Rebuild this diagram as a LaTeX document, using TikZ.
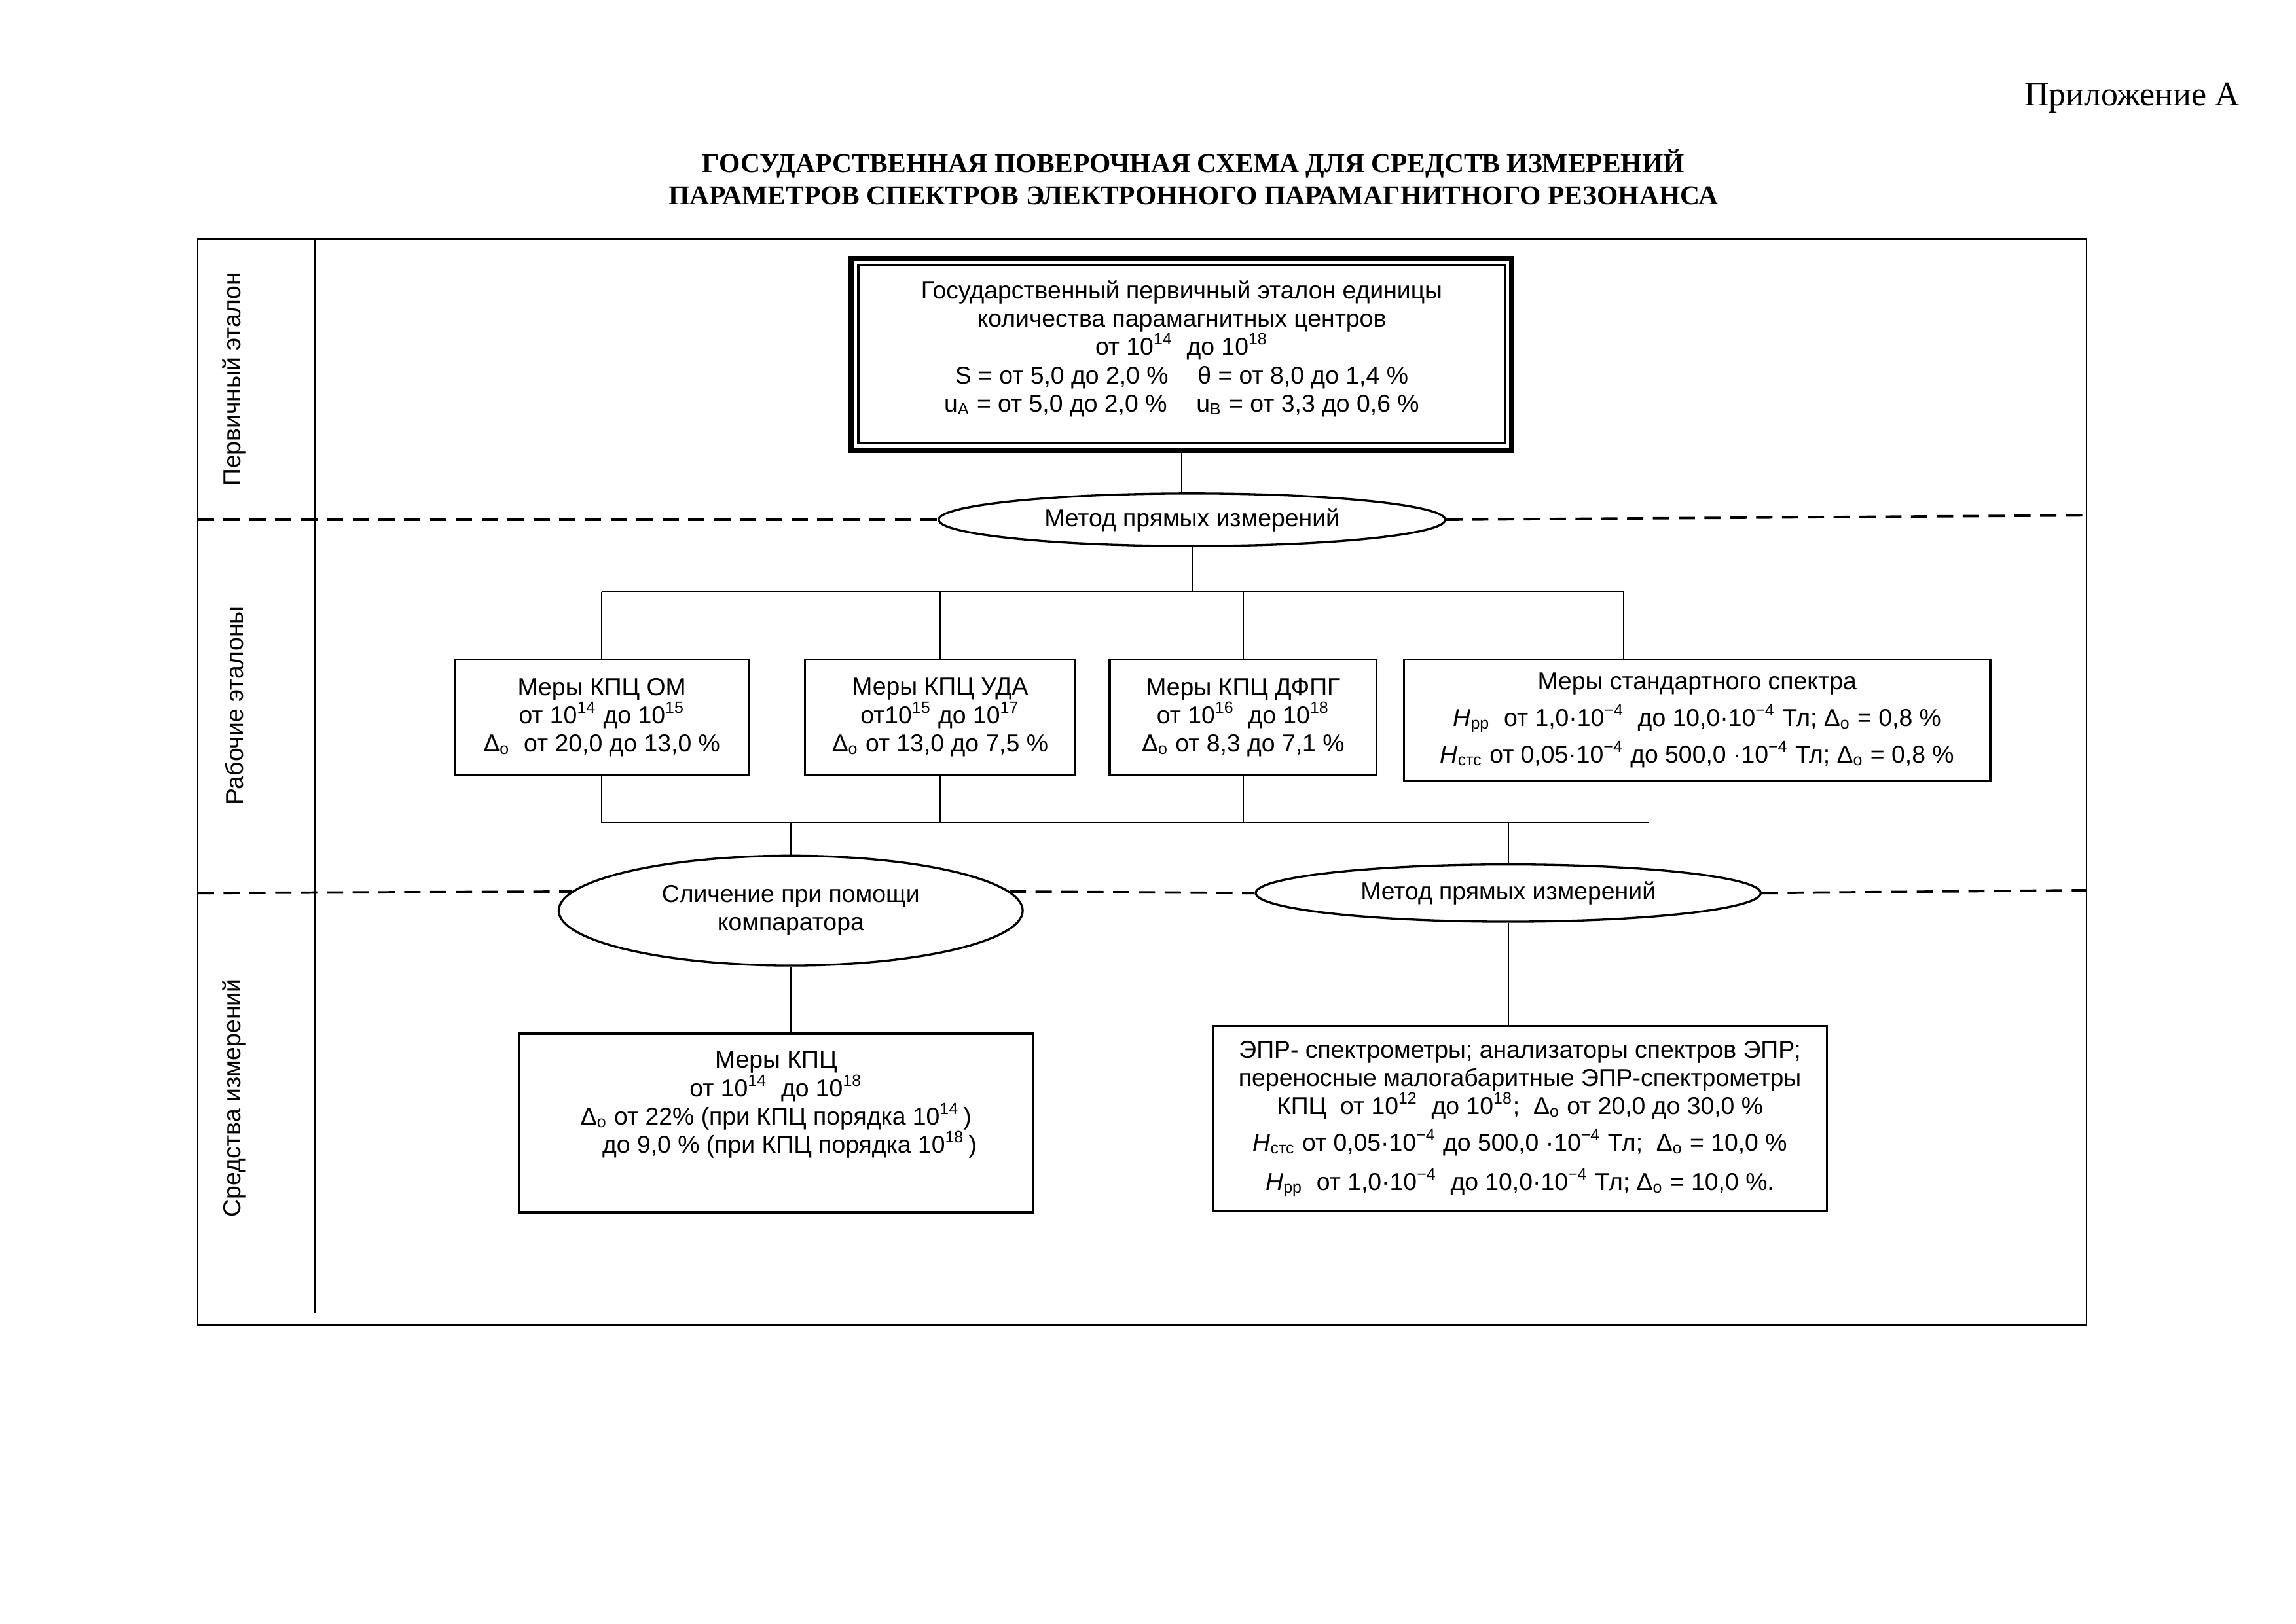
\documentclass[tikz,border=0pt]{standalone}
\usepackage{fontspec}
\setmainfont{Liberation Sans}
\newfontfamily\timesfont{Liberation Serif}
\usetikzlibrary{calc,shapes.geometric,positioning}
\tikzset{
  box/.style={draw, line width=0.8pt, rectangle, align=center, inner sep=0pt},
  method/.style={draw, line width=0.8pt, ellipse, align=center, inner sep=0pt},
  conn/.style={line width=0.45pt},
  level/.style={line width=0.9pt, dash pattern=on 6pt off 3.5pt},
  side/.style={rotate=90}
}
\newcommand{\sub}[1]{\textsubscript{#1}}
\newcommand{\sps}[1]{\textsuperscript{#1}}

\begin{document}
\begin{tikzpicture}[x=0.018941cm, y=-0.018941cm, font=\fontsize{9}{10.4}\selectfont]
    \useasboundingbox (0,0) rectangle (1568,1109);

    % heading
    \node[font=\timesfont\fontsize{12.5}{14}\selectfont] (app) at (1456,67) {Приложение А};
    \node[font=\timesfont\bfseries\fontsize{10}{11.8}\selectfont, align=center] (title) at (815,121)
      {ГОСУДАРСТВЕННАЯ ПОВЕРОЧНАЯ СХЕМА ДЛЯ СРЕДСТВ ИЗМЕРЕНИЙ\\
       ПАРАМЕТРОВ СПЕКТРОВ ЭЛЕКТРОННОГО ПАРАМАГНИТНОГО РЕЗОНАНСА};

    % frame and left column
    \draw[line width=0.6pt] (135,163) rectangle (1425,905);
    \draw[line width=0.6pt] (215,163) -- (215,897);
    \node[side] (lvl1) at (160,259) {Первичный эталон};
    \node[side] (lvl2) at (160,482) {Рабочие эталоны};
    \node[side] (lvl3) at (160,750) {Средства измерений};

    % primary standard
    \node[box, line width=2pt, minimum width=8.54cm, minimum height=2.48cm] (top) at (807,242)
      {\parbox[c][2.2cm][t]{8cm}{\centering\vspace{4.2pt}
       Государственный первичный эталон единицы\\
       количества парамагнитных центров\\
       от 10\sps{14}\ \ до 10\sps{18}\\
       S = от 5,0 до 2,0 \%\hspace{1.2em}θ = от 8,0 до 1,4 \%\\
       u\sub{A} = от 5,0 до 2,0 \%\hspace{1.2em}u\sub{B} = от 3,3 до 0,6 \%}};
    \draw[line width=0.9pt] ([shift={(3.5pt,-3.5pt)}]top.north west) rectangle ([shift={(-3.5pt,3.5pt)}]top.south east);

    \node[method, minimum width=6.55cm, minimum height=0.68cm] (met1) at (814,355) {Метод прямых измерений};

    % working standards
    \node[box, minimum width=3.81cm, minimum height=1.50cm] (om) at (411,490)
      {Меры КПЦ ОМ\\ от 10\sps{14} до 10\sps{15}\\ Δ\sub{о}\ \ от 20,0 до 13,0 \%};
    \node[box, minimum width=3.50cm, minimum height=1.50cm] (uda) at (642,490)
      {Меры КПЦ УДА\\ от10\sps{15} до 10\sps{17}\\ Δ\sub{о} от 13,0 до 7,5 \%};
    \node[box, minimum width=3.45cm, minimum height=1.50cm] (dfpg) at (849,490)
      {Меры КПЦ ДФПГ\\ от 10\sps{16}\ \ до 10\sps{18}\\ Δ\sub{о} от 8,3 до 7,1 \%};
    \node[box, minimum width=7.58cm, minimum height=1.57cm] (spec) at (1159,492)
      {Меры стандартного спектра\\[3pt]
       \textit{H}\sub{рр}\ \ от 1,0·10\sps{−4}\ \ до 10,0·10\sps{−4} Тл; Δ\sub{о} = 0,8 \%\\[3pt]
       \textit{H}\sub{стс} от 0,05·10\sps{−4} до 500,0 ·10\sps{−4} Тл; Δ\sub{о} = 0,8 \%};

    % methods of transfer
    \node[method, minimum width=6.00cm, minimum height=1.42cm] (cmp) at (540,622)
      {Сличение при помощи\\ компаратора};
    \node[method, minimum width=6.53cm, minimum height=0.74cm] (met2) at (1030,610) {Метод прямых измерений};

    % measuring instruments
    \node[box, minimum width=6.65cm, minimum height=2.31cm] (kpc) at (530,767)
      {\parbox[c][1.85cm][t]{6.4cm}{\centering
       Меры КПЦ\\
       от 10\sps{14}\ \ до 10\sps{18}\\
       Δ\sub{о} от 22\% (при КПЦ порядка 10\sps{14}\,)\\
       \hspace*{0.35cm}до 9,0 \% (при КПЦ порядка 10\sps{18}\,)}};
    \node[box, minimum width=7.94cm, minimum height=2.39cm] (epr) at (1038,764)
      {ЭПР- спектрометры; анализаторы спектров ЭПР;\\
       переносные малогабаритные ЭПР-спектрометры\\
       КПЦ\ \ от 10\sps{12}\ \ до 10\sps{18};\ \ Δ\sub{о} от 20,0 до 30,0 \%\\[3pt]
       \textit{H}\sub{стс} от 0,05·10\sps{−4} до 500,0 ·10\sps{−4} Тл;\ \ Δ\sub{о} = 10,0 \%\\[4pt]
       \textit{H}\sub{рр}\ \ от 1,0·10\sps{−4}\ \ до 10,0·10\sps{−4} Тл; Δ\sub{о} = 10,0 \%.};

    % dashed level borders
    \draw[level] (135,355) -- (met1.west);
    \draw[level] (met1.east) -- (1425,352);
    \draw[level] (135,610) -- (cmp.175);
    \draw[level] (cmp.5) -- (met2.west);
    \draw[level] (met2.east) -- (1425,608);

    % connectors
    \coordinate (busT) at (810,404);
    \coordinate (busB) at (535,562);
    \coordinate (specin) at ($(spec.north)+(-50,0)$);
    \coordinate (specout) at ($(spec.south)+(-33,0)$);
    \draw[conn] (top.south) -- (top.south |- met1.north);
    \draw[conn] (met1.south) -- (met1.south |- busT);
    \draw[conn] (om.north |- busT) -- (specin |- busT);
    \foreach \n in {om,uda,dfpg}
      \draw[conn] (\n.north) -- (\n.north |- busT);
    \draw[conn] (specin) -- (specin |- busT);
    \draw[conn] (om.south |- busB) -- (specout |- busB);
    \foreach \n in {om,uda,dfpg}
      \draw[conn] (\n.south) -- (\n.south |- busB);
    \draw[conn] (specout) -- (specout |- busB);
    \draw[conn] (cmp.north |- busB) -- (cmp.north);
    \draw[conn] (met2.north |- busB) -- (met2.north);
    \draw[conn] (cmp.south) -- (cmp.south |- kpc.north);
    \draw[conn] (met2.south) -- (met2.south |- epr.north);
\end{tikzpicture}
\end{document}
